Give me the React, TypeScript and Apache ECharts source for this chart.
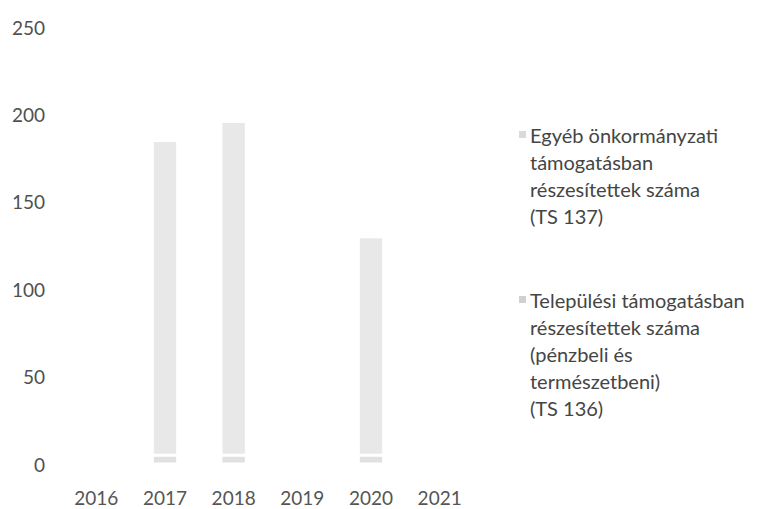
import React, { useEffect, useRef } from "react";
import * as echarts from "echarts";

const years = ["2016", "2017", "2018", "2019", "2020", "2021"];
const telepulesi = [null, 5, 5, null, 5, null];
const egyeb = [null, 180, 191, null, 125, null];
const yTicks = [0, 50, 100, 150, 200, 250];

const nameEgyeb = "Egyéb önkormányzati támogatásban részesítettek száma (TS 137)";
const nameTelep = "Települési támogatásban részesítettek száma (pénzbeli és természetbeni) (TS 136)";
const legendLines: Record<string, string[]> = {
  [nameEgyeb]: ["Egyéb önkormányzati", "támogatásban", "részesítettek száma", "(TS 137)"],
  [nameTelep]: ["Települési támogatásban", "részesítettek száma", "(pénzbeli és", "természetbeni)", "(TS 136)"],
};
const legendColors: Record<string, string> = {
  [nameEgyeb]: "#dadada",
  [nameTelep]: "#d0d0d0",
};

export default function App() {
  const ref = useRef<HTMLDivElement>(null);
  useEffect(() => {
    document.body.style.margin = "0";
    if (!ref.current) return;
    const chart = echarts.init(ref.current, null, { renderer: "svg" });
    const font = "Lato, 'Open Sans', sans-serif";
    chart.setOption({
      animation: false,
      backgroundColor: "#ffffff",
      grid: { left: 62, right: 291, top: 27, bottom: 45, containLabel: false },
      xAxis: {
        type: "category",
        data: years,
        axisLine: { show: false },
        axisTick: { show: false },
        axisLabel: { color: "#555555", fontSize: 19, fontFamily: font, margin: 24 },
      },
      yAxis: {
        type: "value",
        min: yTicks[0],
        max: yTicks[yTicks.length - 1],
        interval: 50,
        axisLine: { show: false },
        axisTick: { show: false },
        splitLine: { show: false },
        axisLabel: {
          fontSize: 19,
          fontFamily: font,
          margin: 17,
          color: (v: number) => (v === 200 ? "#b5b5b5" : "#505050"),
        },
      },
      legend: {
        orient: "vertical",
        left: 513,
        top: 121,
        padding: 0,
        itemGap: 57,
        itemWidth: 0,
        itemHeight: 0,
        icon: "rect",
        data: [nameEgyeb, nameTelep],
        formatter: (name: string) => {
          const lines = legendLines[name] || [name];
          const key = name === nameEgyeb ? "m1" : "m2";
          return lines
            .map((l, i) => (i === 0 ? `{${key}|}{g|}{t|${l}}` : `{s|}{t|${l}}`))
            .join("\n");
        },
        textStyle: {
          fontFamily: font,
          fontSize: 20,
          color: "#454545",
          lineHeight: 27,
          rich: {
            m1: { width: 7, height: 7, backgroundColor: legendColors[nameEgyeb], verticalAlign: "middle" },
            m2: { width: 7, height: 7, backgroundColor: legendColors[nameTelep], verticalAlign: "middle" },
            g: { width: 4 },
            s: { width: 11 },
            t: { fontFamily: font, fontSize: 20, color: "#454545", lineHeight: 27 },
          },
        },
      },
      series: [
        {
          name: nameTelep,
          type: "bar",
          stack: "total",
          data: telepulesi,
          barWidth: "37%",
          itemStyle: { color: "#e0e0e0", borderColor: "#ffffff", borderWidth: 1.5 },
        },
        {
          name: nameEgyeb,
          type: "bar",
          stack: "total",
          data: egyeb,
          barWidth: "37%",
          itemStyle: { color: "#e8e8e8", borderColor: "#ffffff", borderWidth: 1.5 },
        },
      ],
    });
    return () => chart.dispose();
  }, []);
  return <div ref={ref} style={{ width: 765, height: 509 }} />;
}
